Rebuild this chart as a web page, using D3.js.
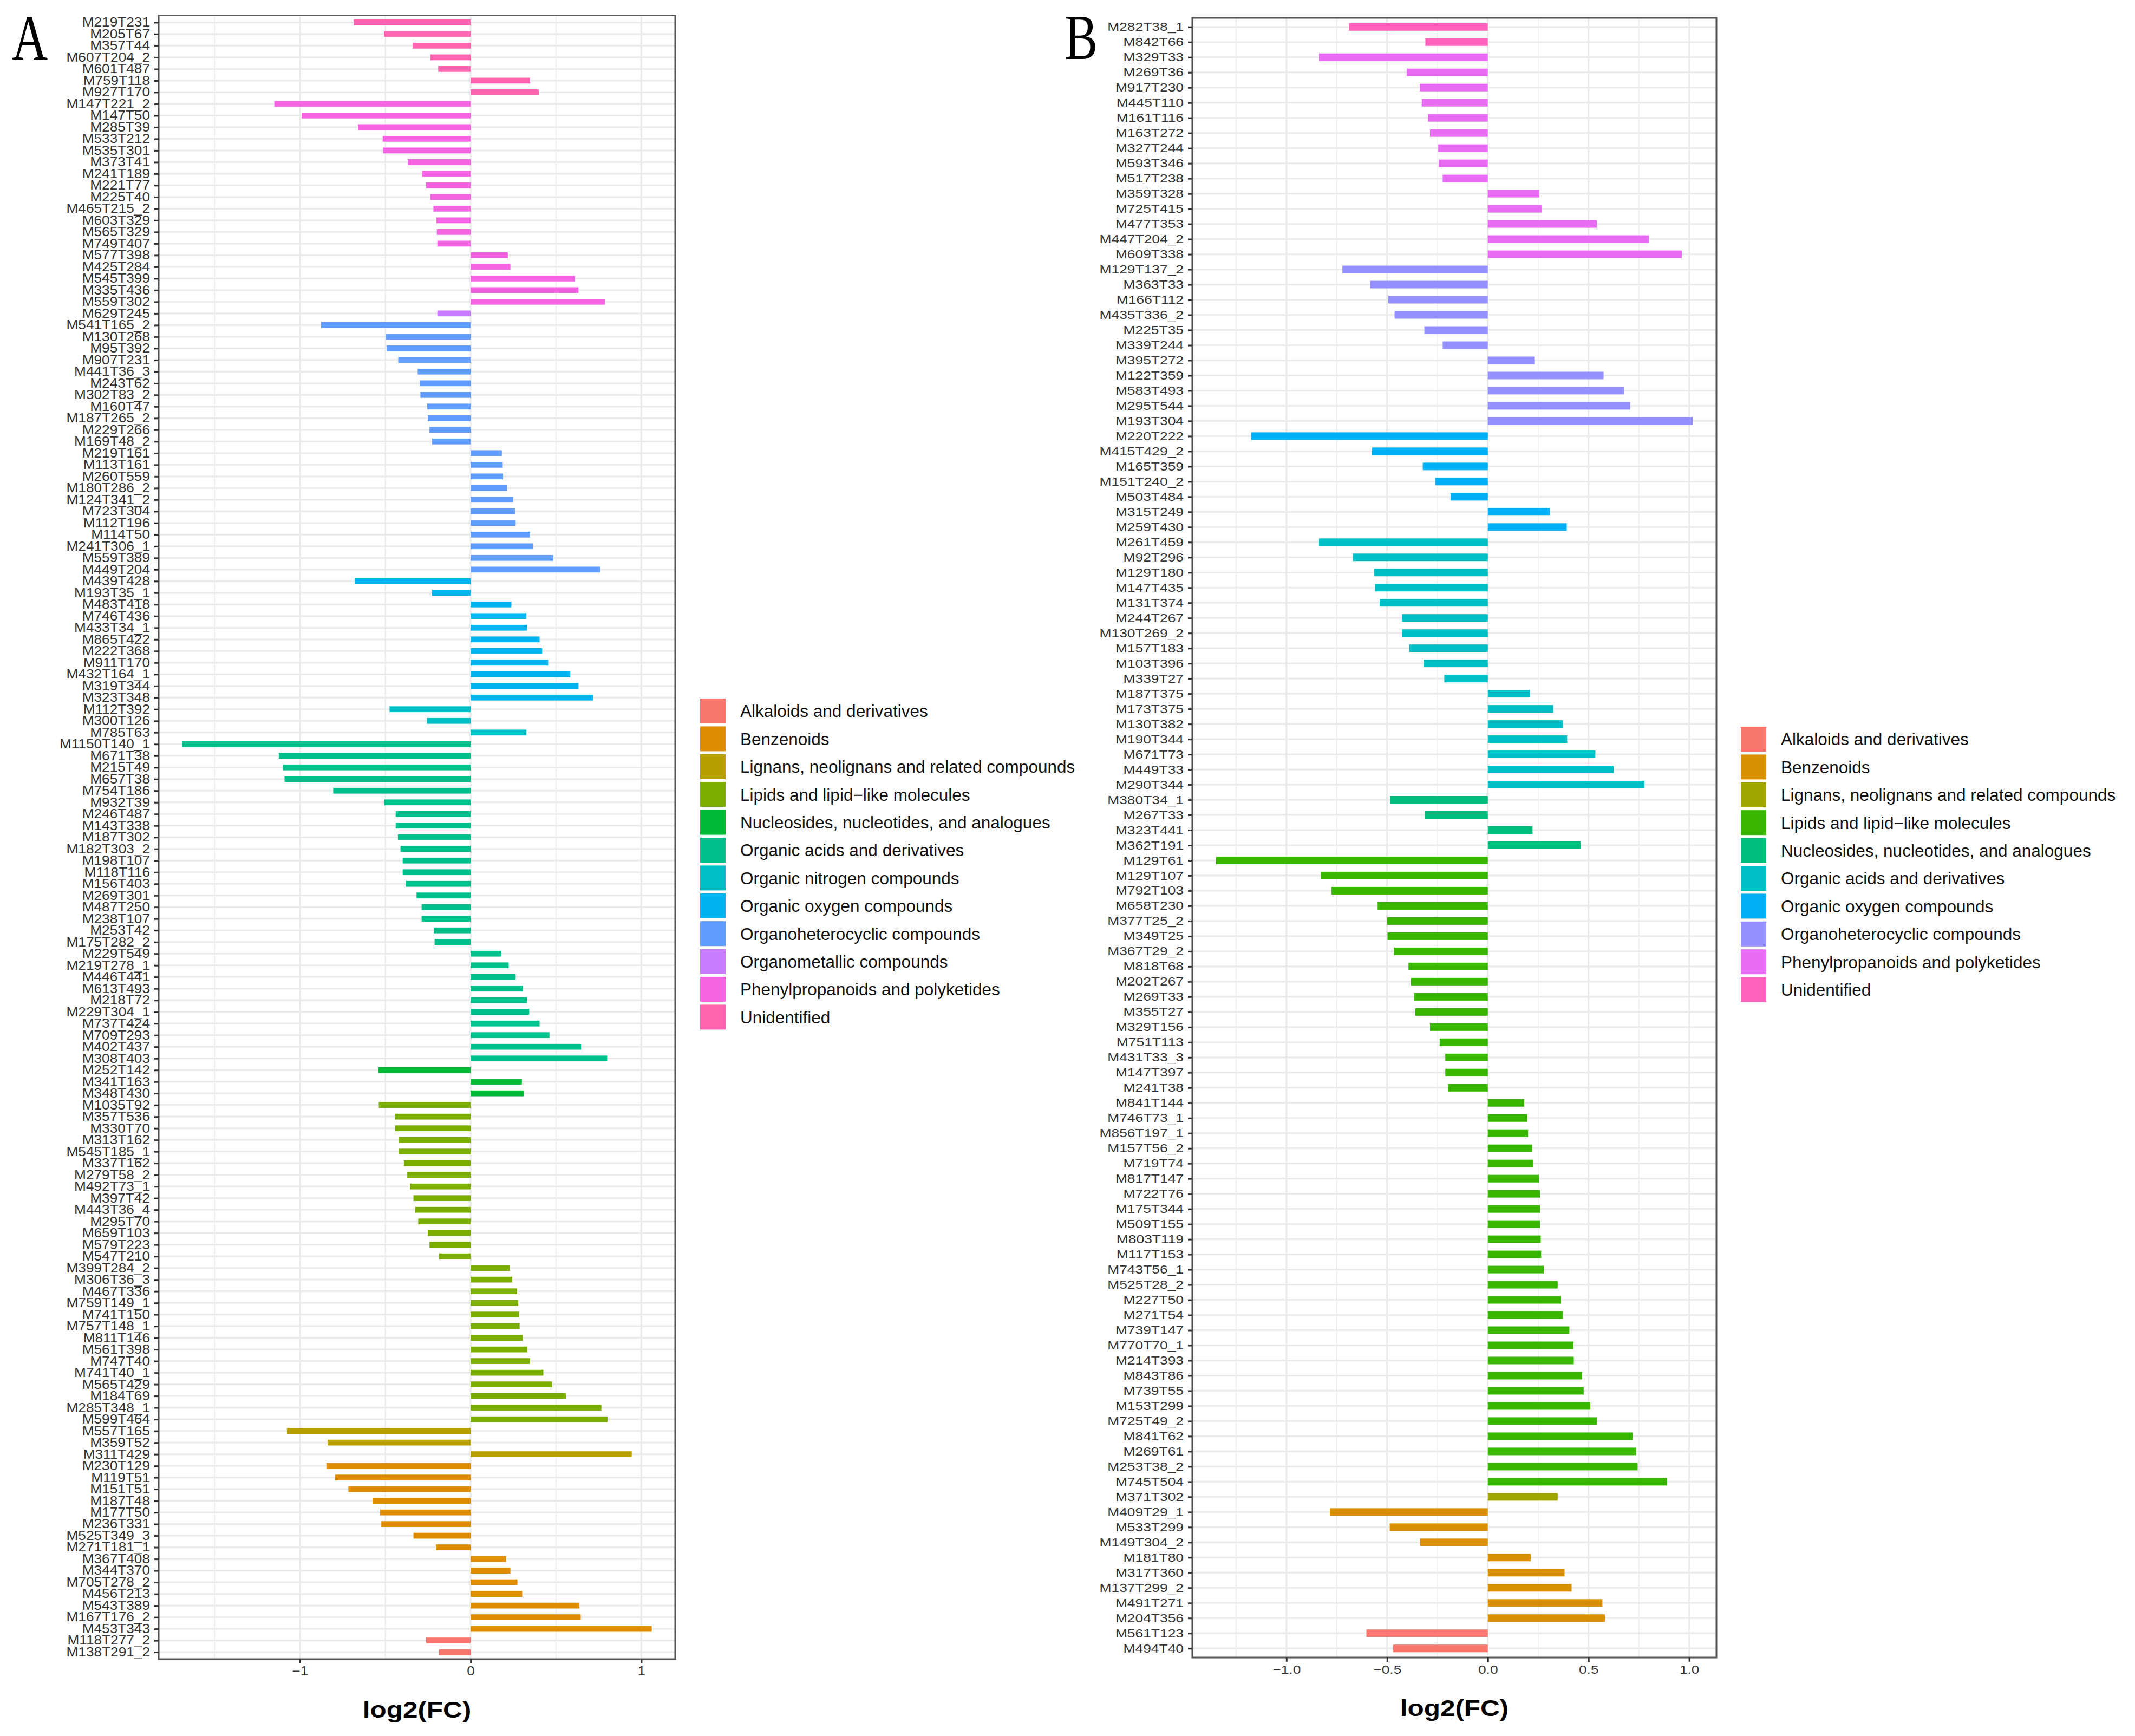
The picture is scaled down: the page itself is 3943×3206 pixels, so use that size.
<!DOCTYPE html>
<html>
<head>
<meta charset="utf-8">
<script src="https://cdn.jsdelivr.net/npm/d3@7"></script>
<style>
  body { margin: 0; background: #fff; }
</style>
</head>
<body>
<script>
const width = 3943;
const height = 3206;

// ---- panel A data (top to bottom) ----
const classesA = ["Alkaloids and derivatives", "Benzenoids", "Lignans, neolignans and related compounds",
  "Lipids and lipid\u2212like molecules", "Nucleosides, nucleotides, and analogues", "Organic acids and derivatives",
  "Organic nitrogen compounds", "Organic oxygen compounds", "Organoheterocyclic compounds",
  "Organometallic compounds", "Phenylpropanoids and polyketides", "Unidentified"];
const colorsA = ["#F8766D", "#DE8C00", "#B79F00", "#7CAE00", "#00BA38", "#00C08B",
  "#00BFC4", "#00B4F0", "#619CFF", "#C77CFF", "#F564E3", "#FF64B0"];
// how many bars of each class, in drawing order (top first)
const runsA = [[11, 7], [10, 18], [9, 1], [8, 22], [7, 11], [6, 3], [5, 28], [4, 3], [3, 28], [2, 3], [1, 15], [0, 2]];
const namesA = [
  "M219T231", "M205T67", "M357T44", "M607T204_2", "M601T487", "M759T118", "M927T170",
  "M147T221_2", "M147T50", "M285T39", "M533T212", "M535T301", "M373T41", "M241T189", "M221T77", "M225T40",
  "M465T215_2", "M603T329", "M565T329", "M749T407", "M577T398", "M425T284", "M545T399", "M335T436", "M559T302",
  "M629T245",
  "M541T165_2", "M130T268", "M95T392", "M907T231", "M441T36_3", "M243T62", "M302T83_2", "M160T47", "M187T265_2",
  "M229T266", "M169T48_2", "M219T161", "M113T161", "M260T559", "M180T286_2", "M124T341_2", "M723T304", "M112T196",
  "M114T50", "M241T306_1", "M559T389", "M449T204",
  "M439T428", "M193T35_1", "M483T418", "M746T436", "M433T34_1", "M865T422", "M222T368", "M911T170", "M432T164_1",
  "M319T344", "M323T348",
  "M112T392", "M300T126", "M785T63",
  "M1150T140_1", "M671T38", "M215T49", "M657T38", "M754T186", "M932T39", "M246T487", "M143T338", "M187T302",
  "M182T303_2", "M198T107", "M118T116", "M156T403", "M269T301", "M487T250", "M238T107", "M253T42", "M175T282_2",
  "M229T549", "M219T278_1", "M446T441", "M613T493", "M218T72", "M229T304_1", "M737T424", "M709T293", "M402T437",
  "M308T403",
  "M252T142", "M341T163", "M348T430",
  "M1035T92", "M357T536", "M330T70", "M313T162", "M545T185_1", "M337T162", "M279T58_2", "M492T73_1", "M397T42",
  "M443T36_4", "M295T70", "M659T103", "M579T223", "M547T210", "M399T284_2", "M306T36_3", "M467T336", "M759T149_1",
  "M741T150", "M757T148_1", "M811T146", "M561T398", "M747T40", "M741T40_1", "M565T429", "M184T69", "M285T348_1",
  "M599T464",
  "M557T165", "M359T52", "M311T429",
  "M230T129", "M119T51", "M151T51", "M187T48", "M177T50", "M236T331", "M525T349_3", "M271T181_1", "M367T408",
  "M344T370", "M705T278_2", "M456T213", "M543T389", "M167T176_2", "M453T343",
  "M118T277_2", "M138T291_2"];
const fcA = [
  -0.685, -0.508, -0.34, -0.236, -0.19, 0.348, 0.40,
  -1.15, -0.99, -0.66, -0.515, -0.513, -0.368, -0.284, -0.261, -0.236, -0.218, -0.20, -0.198, -0.195,
  0.218, 0.233, 0.612, 0.632, 0.787,
  -0.195,
  -0.876, -0.497, -0.492, -0.424, -0.31, -0.297, -0.294, -0.254, -0.251, -0.241, -0.226,
  0.183, 0.188, 0.19, 0.213, 0.249, 0.261, 0.264, 0.348, 0.365, 0.485, 0.759,
  -0.678, -0.226, 0.239, 0.327, 0.33, 0.404, 0.419, 0.454, 0.584, 0.632, 0.718,
  -0.475, -0.256, 0.327,
  -1.69, -1.124, -1.10, -1.09, -0.805, -0.505, -0.439, -0.439, -0.426, -0.411, -0.398, -0.398, -0.381, -0.317,
  -0.287, -0.287, -0.216, -0.211, 0.18, 0.223, 0.264, 0.307, 0.33, 0.343, 0.404, 0.462, 0.647, 0.80,
  -0.541, 0.30, 0.312,
  -0.538, -0.444, -0.442, -0.421, -0.421, -0.391, -0.371, -0.355, -0.335, -0.325, -0.307, -0.251, -0.241, -0.185,
  0.228, 0.244, 0.272, 0.279, 0.284, 0.287, 0.305, 0.332, 0.348, 0.426, 0.477, 0.558, 0.766, 0.802,
  -1.076, -0.838, 0.944,
  -0.845, -0.794, -0.716, -0.574, -0.53, -0.523, -0.335, -0.203, 0.208, 0.233, 0.274, 0.302, 0.637, 0.645, 1.061,
  -0.261, -0.185];
const ticksA = [-1, 0, 1];
const minorA = [-1.5, -0.5, 0.5];

// ---- panel B data (top to bottom) ----
const classesB = ["Alkaloids and derivatives", "Benzenoids", "Lignans, neolignans and related compounds",
  "Lipids and lipid\u2212like molecules", "Nucleosides, nucleotides, and analogues", "Organic acids and derivatives",
  "Organic oxygen compounds", "Organoheterocyclic compounds", "Phenylpropanoids and polyketides", "Unidentified"];
const colorsB = ["#F8766D", "#D89000", "#A3A500", "#39B600", "#00BF7D", "#00BFC4",
  "#00B0F6", "#9590FF", "#E76BF3", "#FF62BC"];
const runsB = [[9, 2], [8, 14], [7, 11], [6, 7], [5, 17], [4, 4], [3, 42], [2, 1], [1, 8], [0, 2]];
const namesB = [
  "M282T38_1", "M842T66",
  "M329T33", "M269T36", "M917T230", "M445T110", "M161T116", "M163T272", "M327T244", "M593T346", "M517T238",
  "M359T328", "M725T415", "M477T353", "M447T204_2", "M609T338",
  "M129T137_2", "M363T33", "M166T112", "M435T336_2", "M225T35", "M339T244", "M395T272", "M122T359", "M583T493",
  "M295T544", "M193T304",
  "M220T222", "M415T429_2", "M165T359", "M151T240_2", "M503T484", "M315T249", "M259T430",
  "M261T459", "M92T296", "M129T180", "M147T435", "M131T374", "M244T267", "M130T269_2", "M157T183", "M103T396",
  "M339T27", "M187T375", "M173T375", "M130T382", "M190T344", "M671T73", "M449T33", "M290T344",
  "M380T34_1", "M267T33", "M323T441", "M362T191",
  "M129T61", "M129T107", "M792T103", "M658T230", "M377T25_2", "M349T25", "M367T29_2", "M818T68", "M202T267",
  "M269T33", "M355T27", "M329T156", "M751T113", "M431T33_3", "M147T397", "M241T38", "M841T144", "M746T73_1",
  "M856T197_1", "M157T56_2", "M719T74", "M817T147", "M722T76", "M175T344", "M509T155", "M803T119", "M117T153",
  "M743T56_1", "M525T28_2", "M227T50", "M271T54", "M739T147", "M770T70_1", "M214T393", "M843T86", "M739T55",
  "M153T299", "M725T49_2", "M841T62", "M269T61", "M253T38_2", "M745T504",
  "M371T302",
  "M409T29_1", "M533T299", "M149T304_2", "M181T80", "M317T360", "M137T299_2", "M491T271", "M204T356",
  "M561T123", "M494T40"];
const fcB = [
  -0.69, -0.31,
  -0.838, -0.403, -0.338, -0.328, -0.297, -0.287, -0.246, -0.244, -0.224, 0.256, 0.269, 0.541, 0.80, 0.963,
  -0.722, -0.584, -0.494, -0.463, -0.315, -0.224, 0.231, 0.575, 0.677, 0.707, 1.017,
  -1.175, -0.575, -0.323, -0.261, -0.185, 0.308, 0.392,
  -0.838, -0.67, -0.565, -0.56, -0.537, -0.427, -0.427, -0.39, -0.319, -0.216, 0.209, 0.325, 0.373, 0.394,
  0.534, 0.625, 0.778,
  -0.485, -0.312, 0.222, 0.461,
  -1.349, -0.828, -0.776, -0.547, -0.50, -0.498, -0.466, -0.394, -0.381, -0.366, -0.36, -0.287, -0.239, -0.211,
  -0.211, -0.198, 0.181, 0.196, 0.20, 0.22, 0.226, 0.254, 0.259, 0.259, 0.259, 0.263, 0.265,
  0.278, 0.347, 0.362, 0.373, 0.405, 0.425, 0.427, 0.468, 0.476, 0.509, 0.541, 0.72, 0.737, 0.744, 0.89,
  0.347,
  -0.784, -0.487, -0.336, 0.213, 0.381, 0.416, 0.569, 0.582,
  -0.603, -0.47];
const ticksB = [-1, -0.5, 0, 0.5, 1];
const minorB = [-1.25, -0.75, -0.25, 0.25, 0.75];

const svg = d3.select("body").append("svg")
  .attr("width", width)
  .attr("height", height)
  .attr("font-family", "'Liberation Sans', Arial, sans-serif");
svg.append("rect").attr("width", width).attr("height", height).attr("fill", "white");

function drawPanel(p) {
  const g = svg.append("g");
  // expand class runs into one class index per bar
  const cls = [];
  p.runs.forEach(r => { for (let i = 0; i < r[1]; i++) cls.push(r[0]); });
  const data = p.names.map((n, i) => ({ name: n, fc: p.fc[i], cls: cls[i] }));

  const ext = d3.extent(p.fc);
  const pad = (ext[1] - ext[0]) * 0.05;
  const x = d3.scaleLinear().domain([ext[0] - pad, ext[1] + pad]).range([p.left, p.right]);
  const y = d3.scalePoint().domain(p.names).range([p.top, p.bottom]).padding(0.6);
  const barH = y.step() * 0.5;

  // grid
  g.append("g").selectAll("line").data(p.minor).join("line")
    .attr("x1", d => x(d)).attr("x2", d => x(d))
    .attr("y1", p.top).attr("y2", p.bottom)
    .attr("stroke", "#EBEBEB").attr("stroke-width", 1.6);
  g.append("g").selectAll("line").data(p.ticks).join("line")
    .attr("x1", d => x(d)).attr("x2", d => x(d))
    .attr("y1", p.top).attr("y2", p.bottom)
    .attr("stroke", "#EBEBEB").attr("stroke-width", 3.2);
  g.append("g").selectAll("line").data(p.names).join("line")
    .attr("x1", p.left).attr("x2", p.right)
    .attr("y1", d => y(d)).attr("y2", d => y(d))
    .attr("stroke", "#EBEBEB").attr("stroke-width", 3.2);

  // bars
  g.append("g").selectAll("rect").data(data).join("rect")
    .attr("x", d => Math.min(x(0), x(d.fc)))
    .attr("width", d => Math.abs(x(d.fc) - x(0)))
    .attr("y", d => y(d.name) - barH / 2)
    .attr("height", barH)
    .attr("fill", d => p.colors[d.cls]);

  // border
  g.append("rect")
    .attr("x", p.left).attr("y", p.top)
    .attr("width", p.right - p.left).attr("height", p.bottom - p.top)
    .attr("fill", "none").attr("stroke", "#555").attr("stroke-width", 3);

  // axes
  const yAxis = g.append("g")
    .attr("transform", `translate(${p.left},0)`)
    .call(d3.axisLeft(y).tickSize(8).tickPadding(8));
  const xAxis = g.append("g")
    .attr("transform", `translate(0,${p.bottom})`)
    .call(d3.axisBottom(x).tickValues(p.ticks).tickFormat(p.fmt).tickSize(8).tickPadding(6));
  [yAxis, xAxis].forEach(a => {
    a.select(".domain").remove();
    a.selectAll(".tick line").attr("stroke", "#333").attr("stroke-width", 3);
    a.selectAll(".tick text").attr("fill", "#333").attr("font-size", p.tickSize)
      .attr("font-family", null);
  });
  // the labels in the figure are a little wider than plain Arial
  yAxis.selectAll(".tick text")
    .attr("x", -16 / p.tickStretch)
    .attr("transform", `scale(${p.tickStretch},1)`);
  xAxis.selectAll(".tick text")
    .attr("transform", `scale(${p.tickStretch},1)`);

  // axis title
  g.append("text")
    .attr("transform", `translate(${(p.left + p.right) / 2},${p.bottom + 108}) scale(1.15,1)`)
    .attr("text-anchor", "middle")
    .attr("font-size", 43)
    .attr("font-weight", "bold")
    .attr("fill", "black")
    .text("log2(FC)");

  // panel letter
  g.append("text")
    .attr("transform", `translate(${p.letterX},${p.letterY}) scale(0.77,1)`)
    .attr("font-family", "'Liberation Serif', 'Times New Roman', serif")
    .attr("font-size", 119)
    .attr("fill", "black")
    .text(p.letter);

  // legend
  const leg = g.append("g").attr("transform", `translate(${p.legX},${p.legY})`);
  const items = leg.selectAll("g").data(p.classes).join("g")
    .attr("transform", (d, i) => `translate(0,${i * 51.4})`);
  items.append("rect")
    .attr("width", 47).attr("height", 46)
    .attr("fill", (d, i) => p.colors[i]);
  items.append("text")
    .attr("x", 74).attr("y", 23).attr("dy", "0.36em")
    .attr("font-size", 31.5)
    .attr("fill", "#111")
    .text(d => d);
}

drawPanel({
  names: namesA, fc: fcA, runs: runsA, classes: classesA, colors: colorsA,
  ticks: ticksA, minor: minorA, fmt: d3.format("d"),
  left: 293, right: 1247, top: 28.5, bottom: 3064,
  tickSize: 23, tickStretch: 1.14,
  letter: "A", letterX: 22, letterY: 110,
  legX: 1293, legY: 1290
});

drawPanel({
  names: namesB, fc: fcB, runs: runsB, classes: classesB, colors: colorsB,
  ticks: ticksB, minor: minorB, fmt: d3.format(".1f"),
  left: 2202, right: 3170, top: 33, bottom: 3061,
  tickSize: 22, tickStretch: 1.2,
  letter: "B", letterX: 1966, letterY: 109,
  legX: 3215, legY: 1342
});
</script>
</body>
</html>
